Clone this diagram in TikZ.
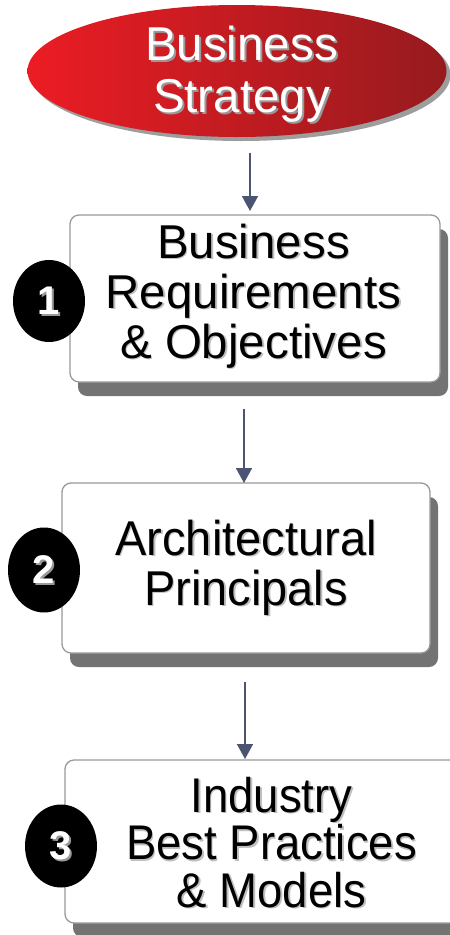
\documentclass[tikz,border=0pt]{standalone}
\usepackage{fontspec}
\usepackage{graphicx}
\setmainfont{Liberation Sans}
\usetikzlibrary{shadows,arrows.meta,shapes.geometric}
\definecolor{redL}{HTML}{EC1C24}
\definecolor{redR}{HTML}{961B1E}
\definecolor{arrowc}{HTML}{4B5573}
\newcommand\vst[2]{\scalebox{1}[#1]{#2}}
\tikzset{
  stepbox/.style={draw=black!40, line width=1.3pt, fill=white, rounded corners=9pt, inner sep=0pt,
    drop shadow={shadow xshift=8pt, shadow yshift=-14pt, fill=black!55, opacity=1}},
  numdot/.style={ellipse, fill=black, inner sep=0pt, minimum width=72pt},
  numtxt/.style={text=white, inner sep=0pt, font=\bfseries\fontsize{40}{40}\selectfont},
  numsh/.style={numtxt, text=black!40},
  bigtxt/.style={align=center, inner sep=0pt},
  bigsh/.style={bigtxt, text=black!25},
  fA/.style={font=\fontsize{47.5}{52}\selectfont},
  fB/.style={font=\fontsize{47.5}{50}\selectfont},
  fC/.style={font=\fontsize{47}{50}\selectfont},
  fD/.style={font=\fontsize{45.5}{47.5}\selectfont},
  arr/.style={draw=arrowc, line width=1.8pt, -{Triangle[width=16pt,length=15pt]}},
}
\begin{document}
\begin{tikzpicture}[x=1pt,y=-1pt]
\useasboundingbox (0,0) rectangle (450,935);
\clip (0,0) rectangle (450,935);
% top ellipse
\node[ellipse, minimum width=419pt, minimum height=132pt, inner sep=0pt,
  left color=redL, right color=redR,
  drop shadow={shadow xshift=4pt, shadow yshift=-4pt, fill=black!55, opacity=0.7}] (strat) at (237,71) {};
\node[bigtxt, fA, text=black!40] (stratsh) at (243.5,76.5) {Business\\Strategy};
\node[bigtxt, fA, text=white] (strattx) at (241.5,74.5) {Business\\Strategy};
% boxes
\node[stepbox, minimum width=370pt, minimum height=167pt] (b1) at (255,298.5) {};
\node[stepbox, minimum width=368pt, minimum height=170pt] (b2) at (246,568) {};
\node[stepbox, minimum width=415pt, minimum height=163pt] (b3) at (272.5,841.5) {};
% box texts
\node[bigsh, fB] (t1sh) at (255,297.5) {Business\\Requirements\\\& Objectives};
\node[bigtxt, fB] (t1) at (253.5,296) {Business\\Requirements\\\& Objectives};
\node[bigsh, fC] (t2sh) at (247.5,569.25) {\vst{1.04}{Architectural}\\\vst{1.04}{Principals}};
\node[bigtxt, fC] (t2) at (246,567.75) {\vst{1.04}{Architectural}\\\vst{1.04}{Principals}};
\node[bigsh, fD] (t3sh) at (273,844) {\vst{1.07}{Industry}\\\vst{1.07}{Best Practices}\\\vst{1.07}{\& Models}};
\node[bigtxt, fD] (t3) at (271.5,842.5) {\vst{1.07}{Industry}\\\vst{1.07}{Best Practices}\\\vst{1.07}{\& Models}};
% number dots
\node[numdot, minimum height=82pt] (c1) at (49,301) {};
\node[numsh] (n1sh) at (50.5,302.5) {1};
\node[numtxt] (n1) at (48.5,301) {1};
\node[numdot, minimum height=85pt] (c2) at (44,570) {};
\node[numsh] (n2sh) at (45.5,571.5) {2};
\node[numtxt] (n2) at (44,570) {2};
\node[numdot, minimum height=83pt] (c3) at (61,846) {};
\node[numsh] (n3sh) at (62.5,847.5) {3};
\node[numtxt] (n3) at (61,846) {3};
% arrows
\coordinate (a1s) at (250,153);
\coordinate (a1e) at (250,211);
\coordinate (a2s) at (244,409);
\coordinate (a2e) at (244,483);
\coordinate (a3s) at (245,682);
\coordinate (a3e) at (245,759);
\draw[arr] (a1s) -- (a1e);
\draw[arr] (a2s) -- (a2e);
\draw[arr] (a3s) -- (a3e);
\end{tikzpicture}
\end{document}
